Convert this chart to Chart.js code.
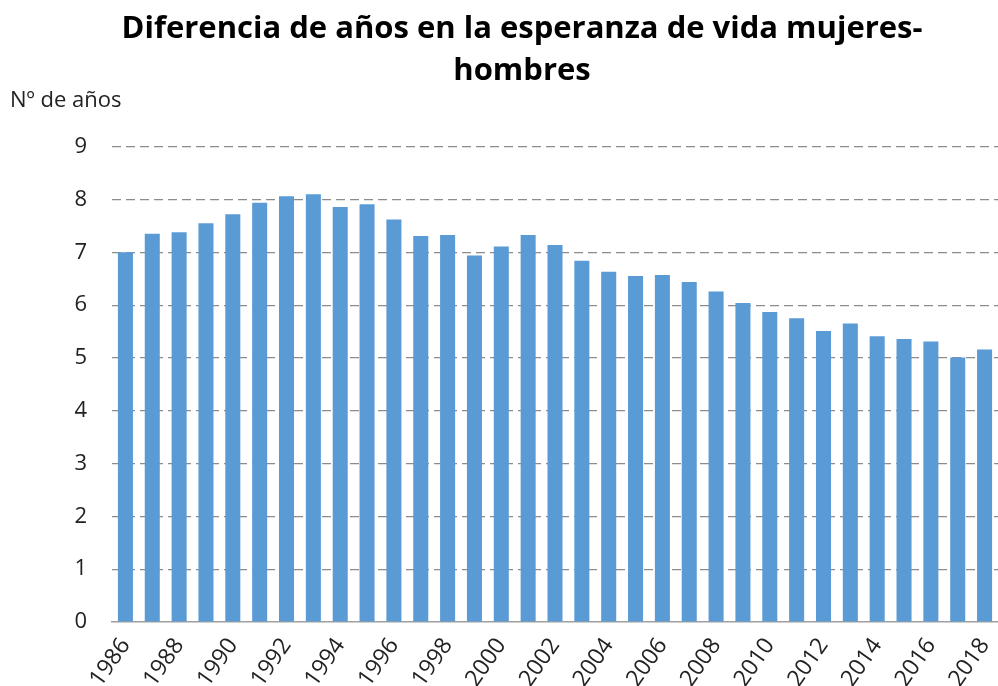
<!DOCTYPE html>
<html>
<head>
<meta charset="utf-8">
<script src="https://cdn.jsdelivr.net/npm/chart.js@4/dist/chart.umd.min.js"></script>
<style>
  html, body { margin: 0; padding: 0; background: #fff; }
  canvas { display: block; }
</style>
</head>
<body>
<canvas id="chart" width="998" height="686"></canvas>
<script>
const years = ['1986','1987','1988','1989','1990','1991','1992','1993','1994','1995','1996',
  '1997','1998','1999','2000','2001','2002','2003','2004','2005','2006','2007','2008',
  '2009','2010','2011','2012','2013','2014','2015','2016','2017','2018'];
const diferencia = [7.00, 7.35, 7.38, 7.55, 7.72, 7.94, 8.06, 8.10, 7.86, 7.91, 7.62,
  7.31, 7.33, 6.94, 7.11, 7.33, 7.14, 6.84, 6.63, 6.55, 6.57, 6.44, 6.26,
  6.04, 5.87, 5.75, 5.51, 5.65, 5.41, 5.36, 5.31, 5.01, 5.16];
const titleLines = ['Diferencia de años en la esperanza de vida mujeres-', 'hombres'];
const yAxisLabel = 'Nº de años';

const fontFamily = '"Open Sans", "Noto Sans", sans-serif';

// unit label drawn above the y axis, at the left edge of the canvas
const unitLabel = {
  id: 'unitLabel',
  afterDraw(chart) {
    const c = chart.ctx;
    c.save();
    c.font = '22px ' + fontFamily;
    c.fillStyle = '#222';
    c.textAlign = 'left';
    c.textBaseline = 'middle';
    c.fillText(yAxisLabel, 10, 101);
    c.restore();
  }
};

new Chart(document.getElementById('chart'), {
  type: 'bar',
  data: {
    labels: years,
    datasets: [{
      data: diferencia,
      backgroundColor: '#5b9bd5',
      borderWidth: 0,
      barPercentage: 0.56,
      categoryPercentage: 1.0
    }]
  },
  plugins: [unitLabel],
  options: {
    responsive: false,
    animation: false,
    layout: { padding: { left: 46, right: 0, top: 8, bottom: 0 } },
    plugins: {
      legend: { display: false },
      tooltip: { enabled: false },
      title: {
        display: true,
        text: titleLines,
        color: '#000',
        font: { family: fontFamily, size: 31, weight: 'bold', lineHeight: 1.35 },
        padding: { top: 0, bottom: 55 }
      }
    },
    scales: {
      x: {
        grid: { display: false },
        border: { display: true, color: '#a0a0a0', width: 1.5 },
        afterFit: scale => {
          scale.height = 64;
          scale.paddingLeft = 0;
          scale.paddingRight = 0;
        },
        ticks: {
          autoSkip: false,
          maxRotation: 55,
          minRotation: 55,
          color: '#222',
          font: { family: fontFamily, size: 23 },
          padding: 3,
          callback: function (value, index) {
            return index % 2 === 0 ? this.getLabelForValue(value) : '';
          }
        }
      },
      y: {
        min: 0,
        max: 9,
        border: { display: false, dash: [9, 5] },
        afterFit: scale => { scale.width = 66; },
        grid: {
          drawTicks: false,
          color: ctx => ctx.tick.value === 0 ? 'rgba(0,0,0,0)' : '#8c8c8c',
          lineWidth: 1.2
        },
        ticks: {
          stepSize: 1,
          color: '#222',
          font: { family: fontFamily, size: 22 },
          padding: 25
        }
      }
    }
  }
});
</script>
</body>
</html>
